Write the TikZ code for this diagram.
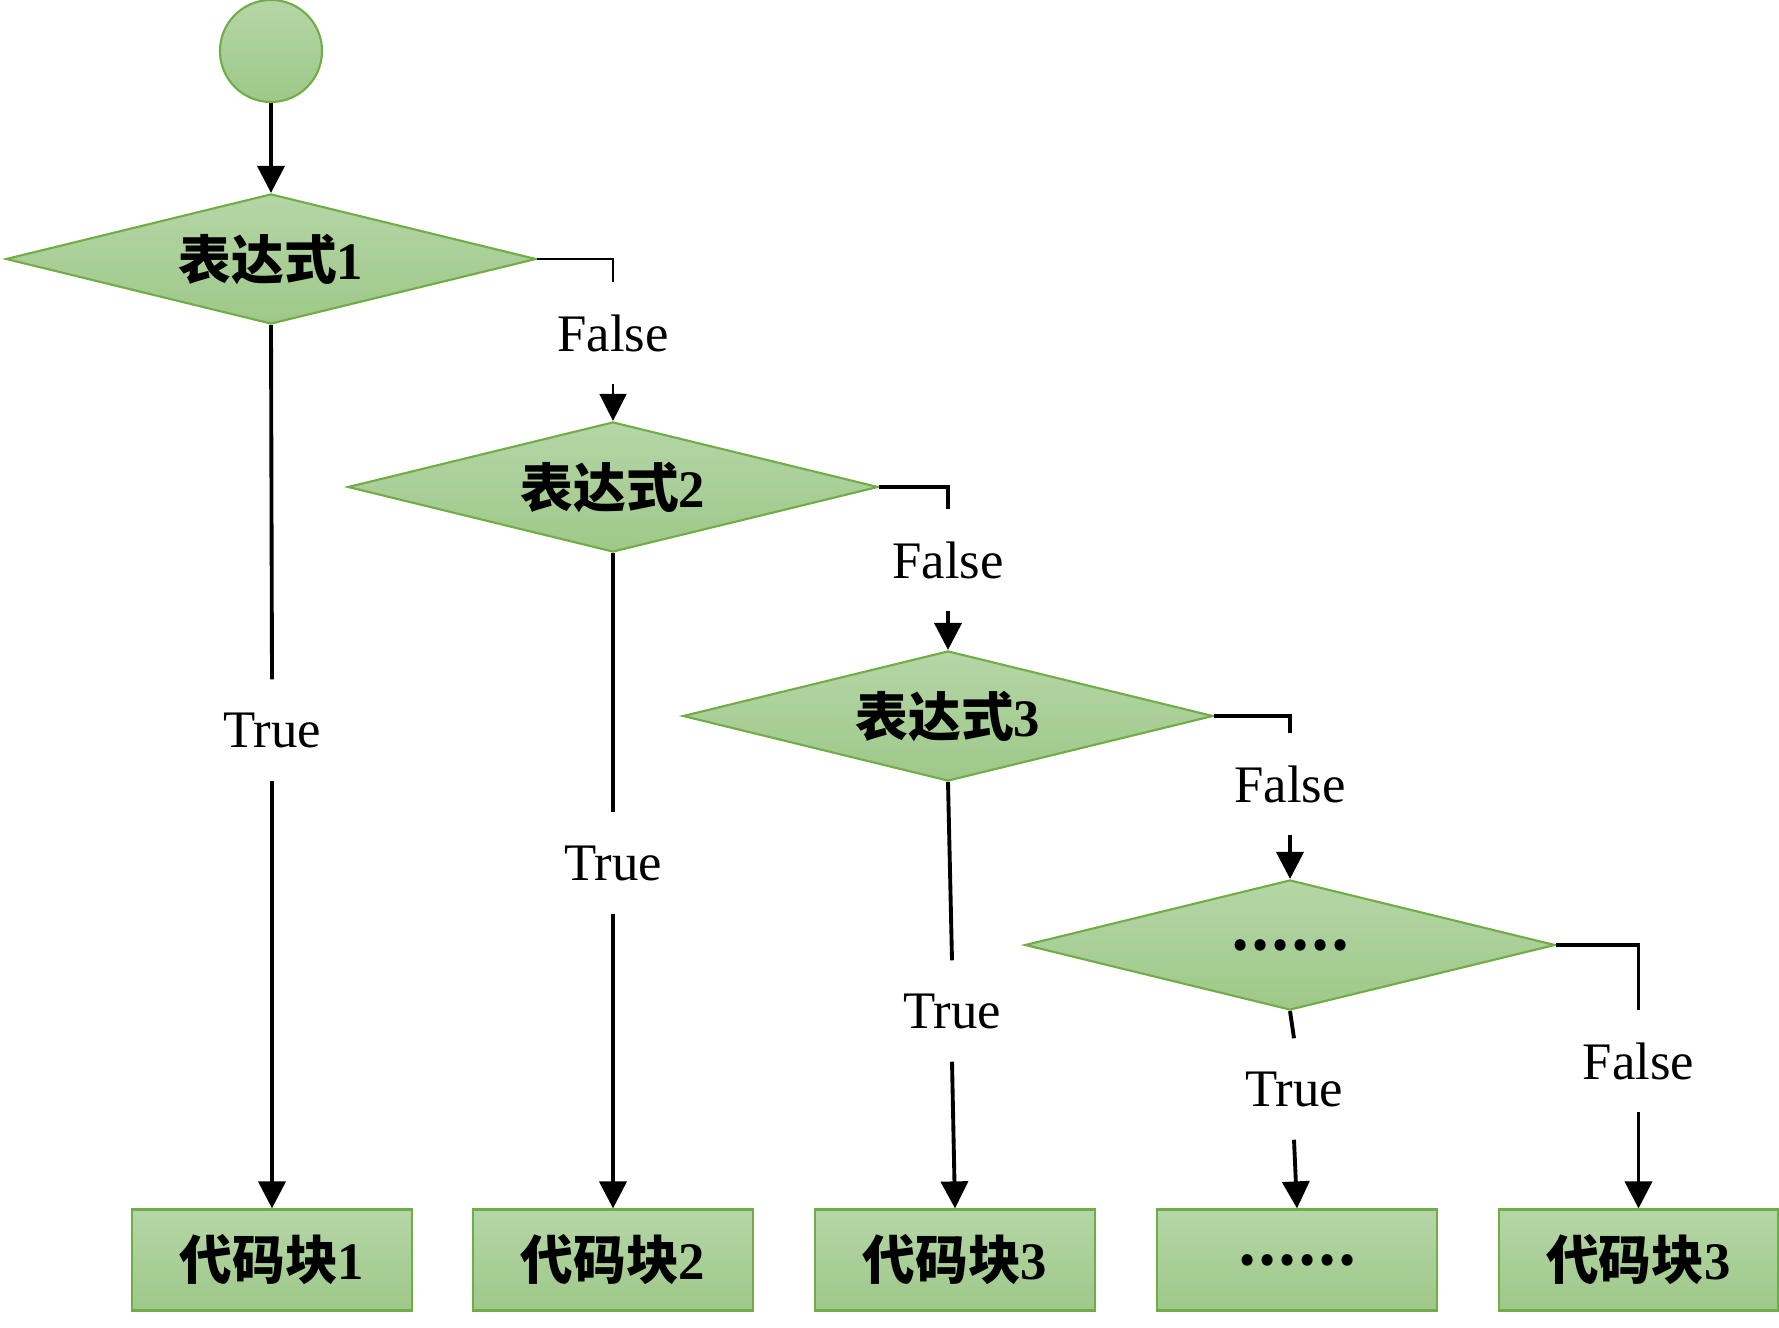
\documentclass[tikz,border=0pt]{standalone}
\usepackage{fontspec}
\setmainfont{Liberation Serif}
\newfontfamily\cjk{Noto Sans CJK SC}
\usetikzlibrary{shapes.geometric,arrows.meta}
\definecolor{leafgreen}{HTML}{70AD47}
\definecolor{lighttop}{HTML}{B5D6A7}
\definecolor{lightbottom}{HTML}{9EC888}
\newcommand{\zhb}[1]{{\cjk\bfseries #1}}

\begin{document}
\begin{tikzpicture}[x=0.01cm, y=-0.01cm,
  font=\fontsize{15}{18}\selectfont,
  shaded/.style = {draw=leafgreen, line width=0.6pt,
    top color=lighttop, bottom color=lightbottom},
  cond/.style = {shaded, shape=diamond, aspect=4,
    minimum width=5.3cm, minimum height=1.3cm, inner sep=0pt},
  blk/.style = {shaded, shape=rectangle,
    minimum width=2.79cm, minimum height=1.01cm},
  lbl/.style = {inner sep=0pt, minimum height=1cm},
  flow/.style = {line width=1.1pt},
  thinflow/.style = {line width=0.45pt},
  arrowed/.style = {-{Triangle[width=0.27cm,length=0.27cm]}}]
    \useasboundingbox (0,0) rectangle (1779,1328);

    \node[shaded, circle, minimum size=1.02cm, inner sep=0pt] (start) at (271,51) {};
    \node[cond] (d1) at (271,259) {\zhb{表达式}\textbf{1}};
    \node[cond] (d2) at (613,487) {\zhb{表达式}\textbf{2}};
    \node[cond] (d3) at (948,716) {\zhb{表达式}\textbf{3}};
    \node[cond] (d4) at (1290,945) {\zhb{……}};

    \node[blk] (b1) at (272,1260) {\zhb{代码块}\textbf{1}};
    \node[blk] (b2) at (613,1260) {\zhb{代码块}\textbf{2}};
    \node[blk] (b3) at (955,1260) {\zhb{代码块}\textbf{3}};
    \node[blk] (b4) at (1297,1260) {\zhb{……}};
    \node[blk] (b5) at (1638.5,1260) {\zhb{代码块}\textbf{3}};

    \node[lbl] (f1) at (613,333) {False};
    \node[lbl] (f2) at (948,560) {False};
    \node[lbl] (f3) at (1290,784) {False};
    \node[lbl] (f4) at (1638.5,1061) {False};

    \node[lbl] (t1) at (272,730) {True};
    \node[lbl] (t2) at (613,863) {True};
    \node[lbl] (t3) at (952,1011) {True};
    \node[lbl] (t4) at (1294,1089) {True};

    \draw[flow, arrowed] (start.south) -- (d1.north);
    %first False branch is drawn thin
    \draw[thinflow] (d1.east) -| (f1.north);
    \draw[thinflow, arrowed] (f1.south) -- (d2.north);
    \draw[flow] (d2.east) -| (f2.north);
    \draw[flow, arrowed] (f2.south) -- (d3.north);
    \draw[flow] (d3.east) -| (f3.north);
    \draw[flow, arrowed] (f3.south) -- (d4.north);
    \draw[flow] (d4.east) -| (f4.north);
    \draw[flow, arrowed] (f4.south) -- (b5.north);

    \foreach \i in {1,...,4} {
      \draw[flow] (d\i.south) -- (t\i.north);
      \draw[flow, arrowed] (t\i.south) -- (b\i.north);
    }
\end{tikzpicture}
\end{document}
